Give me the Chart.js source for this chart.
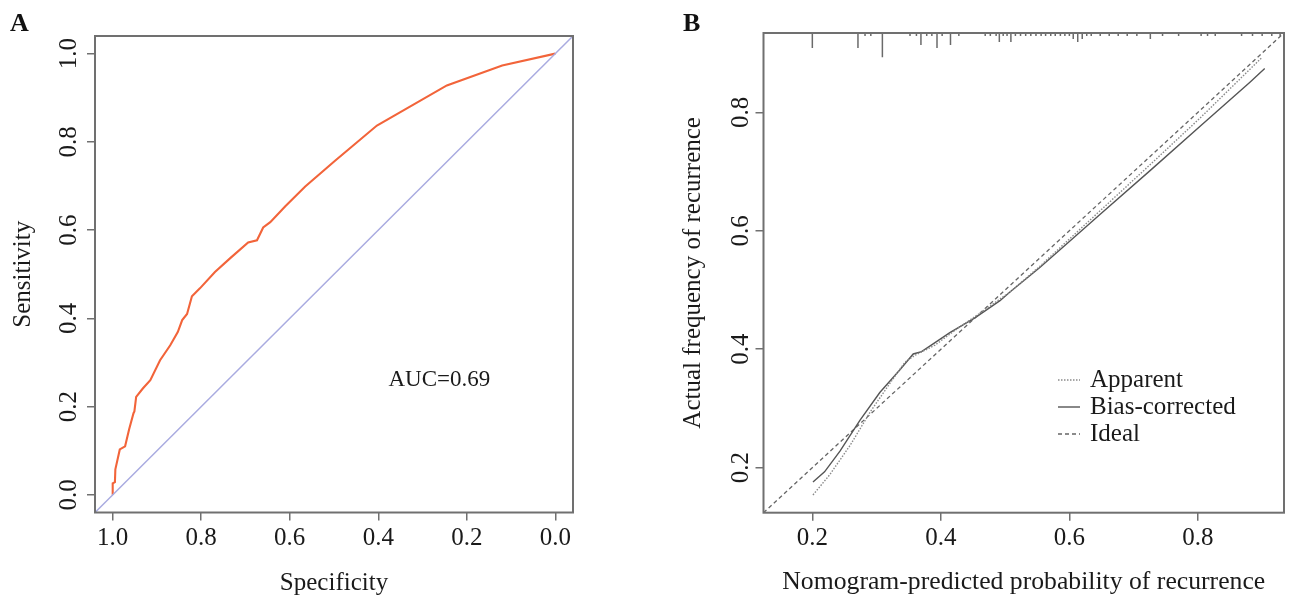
<!DOCTYPE html>
<html><head><meta charset="utf-8">
<script src="https://cdn.jsdelivr.net/npm/chart.js@4.4.1/dist/chart.umd.min.js"></script>
<style>
html,body{margin:0;padding:0;background:#fff;overflow:hidden}
#wrap{position:relative;width:1289px;height:596px;background:#fff}
.pane{position:absolute;top:0;height:596px}
#pa{left:0;width:645px}
#pb{left:645px;width:644px}
.tag{position:absolute;font:bold 26px "Liberation Serif","Times New Roman",serif;color:#111;line-height:26px}
</style></head>
<body>
<div id="wrap">
  <div class="pane" id="pa"><canvas id="ca"></canvas></div>
  <div class="pane" id="pb"><canvas id="cb"></canvas></div>
  <div class="tag" style="left:10px;top:10px">A</div>
  <div class="tag" style="left:683px;top:10px">B</div>
</div>
<script>
// ---------- Panel A: ROC curve ----------
const rocSpecificity = [1.000,1.000,0.995,0.994,0.984,0.972,0.963,0.953,0.951,0.947,0.932,0.915,0.893,0.870,0.853,0.843,0.832,0.821,0.803,0.769,0.735,0.694,0.674,0.660,0.644,0.610,0.565,0.497,0.403,0.245,0.120,0.000];
const rocSensitivity = [0.000,0.026,0.029,0.058,0.103,0.110,0.148,0.185,0.189,0.222,0.241,0.260,0.305,0.339,0.369,0.396,0.410,0.450,0.468,0.505,0.536,0.572,0.577,0.606,0.618,0.654,0.699,0.758,0.837,0.928,0.973,1.000];
const chanceSpecificity = [1.04, -0.04];
const chanceSensitivity = [-0.04, 1.04];
const rocTicks = [0, 0.2, 0.4, 0.6, 0.8, 1.0];
const rocRange = [-0.04, 1.04];
const aucText = 'AUC=0.69';

// ---------- Panel B: calibration ----------
const apparentPred = [0.201,0.227,0.259,0.290,0.321,0.344,0.360,0.391,0.422,0.461,0.508,0.554,0.600,0.648,0.726,0.803,0.900];
const apparentObs  = [0.154,0.188,0.238,0.294,0.343,0.378,0.390,0.407,0.432,0.461,0.497,0.540,0.586,0.634,0.712,0.790,0.893];
const biasPred = [0.201,0.219,0.243,0.274,0.305,0.336,0.357,0.370,0.388,0.414,0.453,0.492,0.508,0.554,0.600,0.648,0.726,0.803,0.881,0.904];
const biasObs  = [0.176,0.193,0.228,0.280,0.327,0.365,0.392,0.396,0.409,0.428,0.453,0.482,0.497,0.538,0.582,0.628,0.702,0.776,0.851,0.874];
const idealPred = [0.124, 0.934];
const idealObs  = [0.124, 0.934];
const calRange = [0.124, 0.934];
const calTicks = [0.2, 0.4, 0.6, 0.8];
const rugPred  = [0.200,0.271,0.282,0.291,0.309,0.352,0.362,0.369,0.378,0.386,0.394,0.402,0.415,0.428,0.469,0.477,0.486,0.491,0.497,0.503,0.509,0.516,0.524,0.532,0.540,0.548,0.556,0.563,0.571,0.578,0.586,0.593,0.600,0.606,0.613,0.620,0.627,0.634,0.648,0.662,0.676,0.690,0.705,0.726,0.745,0.770,0.805,0.815,0.827,0.868,0.885,0.900,0.915,0.928];
const rugCount = [5,5,1,1,8,1,1,4,1,1,5,1,4,1,1,1,1,3,1,1,3,1,1,1,1,1,1,1,1,1,1,1,1,2,3,2,1,1,1,1,1,1,1,2,1,1,1,1,1,1,1,1,1,1];
const calLabels = ['Apparent', 'Bias-corrected', 'Ideal'];

const SERIF = '"Liberation Serif","Times New Roman",serif';
const pts = (xs, ys) => xs.map((x, i) => ({x: x, y: ys[i]}));
const RUG_UNIT = 0.0051;
const rugData = [];
rugPred.forEach((x, i) => {
  rugData.push({x: x, y: calRange[1]});
  rugData.push({x: x, y: calRange[1] - rugCount[i] * RUG_UNIT});
  rugData.push({x: x, y: null});
});

const boxPlugin = {
  id: 'box',
  afterDatasetsDraw(chart) {
    const {ctx, chartArea: a} = chart;
    ctx.save();
    ctx.strokeStyle = '#707070';
    ctx.lineWidth = 2;
    ctx.strokeRect(a.left, a.top, a.right - a.left, a.bottom - a.top);
    ctx.restore();
  }
};

const textPlugin = {
  id: 'dataText',
  afterDatasetsDraw(chart, args, o) {
    if (!o || !o.text) return;
    const ctx = chart.ctx;
    const x = chart.scales.x.getPixelForValue(o.x);
    const y = chart.scales.y.getPixelForValue(o.y);
    ctx.save();
    ctx.font = o.size + 'px ' + SERIF;
    ctx.fillStyle = '#1a1a1a';
    ctx.textAlign = 'center';
    ctx.textBaseline = 'middle';
    ctx.fillText(o.text, x, y);
    ctx.restore();
  }
};

const legendPlugin = {
  id: 'calLegend',
  afterDatasetsDraw(chart, args, o) {
    if (!o || !o.items) return;
    const ctx = chart.ctx;
    ctx.save();
    o.items.forEach((idx, i) => {
      const ds = chart.data.datasets[idx];
      const y = o.y + i * o.step;
      ctx.strokeStyle = ds.borderColor;
      ctx.lineWidth = ds.borderWidth;
      ctx.setLineDash(ds.borderDash || []);
      ctx.beginPath();
      ctx.moveTo(o.x, y);
      ctx.lineTo(o.x + o.len, y);
      ctx.stroke();
      ctx.setLineDash([]);
      ctx.fillStyle = '#1a1a1a';
      ctx.font = '25px ' + SERIF;
      ctx.textAlign = 'left';
      ctx.textBaseline = 'middle';
      ctx.fillText(ds.label, o.x + o.len + o.gap, y);
    });
    ctx.restore();
  }
};

function makeAxis(cfg) {
  const horiz = cfg.horizontal;
  return {
    type: 'linear',
    min: cfg.range[0],
    max: cfg.range[1],
    reverse: !!cfg.reverse,
    afterBuildTicks: s => { s.ticks = cfg.ticks.map(v => ({value: v})); },
    afterFit: s => { if (horiz) s.height = cfg.size; else s.width = cfg.size; },
    grid: {drawOnChartArea: false, drawTicks: true, tickLength: 8, color: '#707070', lineWidth: 1.5},
    border: {display: false},
    ticks: {
      autoSkip: false,
      font: {family: SERIF, size: 25},
      color: '#1a1a1a',
      padding: cfg.tickPad,
      minRotation: horiz ? 0 : 90,
      maxRotation: horiz ? 0 : 90,
      crossAlign: horiz ? 'near' : 'center',
      callback: v => Number(v).toFixed(1)
    },
    title: {
      display: true,
      text: cfg.title,
      color: '#1a1a1a',
      font: {family: SERIF, size: cfg.titleSize || 25},
      padding: cfg.titlePad
    }
  };
}

const lineDefaults = {pointRadius: 0, pointHoverRadius: 0, tension: 0, fill: false, spanGaps: false};

new Chart(document.getElementById('ca'), {
  type: 'line',
  data: {
    datasets: [
      Object.assign({label: 'chance', data: pts(chanceSpecificity, chanceSensitivity), borderColor: '#a9abe0', borderWidth: 1.5}, lineDefaults),
      Object.assign({label: 'ROC', data: pts(rocSpecificity, rocSensitivity), borderColor: '#f2643a', borderWidth: 2.1}, lineDefaults)
    ]
  },
  options: {
    responsive: true,
    maintainAspectRatio: false,
    animation: false,
    layout: {padding: {left: 0, top: 36, right: 72, bottom: 0}},
    scales: {
      x: makeAxis({horizontal: true, range: rocRange, reverse: true, ticks: rocTicks, size: 83.5, tickPad: 3, title: 'Specificity', titlePad: {top: 0, bottom: -2}}),
      y: makeAxis({horizontal: false, range: rocRange, ticks: rocTicks, size: 95, tickPad: 1.5, title: 'Sensitivity', titlePad: {top: 8, bottom: 0}})
    },
    plugins: {
      legend: {display: false},
      tooltip: {enabled: false},
      dataText: {text: aucText, x: 0.262, y: 0.26, size: 23}
    }
  },
  plugins: [boxPlugin, textPlugin]
});

new Chart(document.getElementById('cb'), {
  type: 'line',
  data: {
    datasets: [
      Object.assign({label: calLabels[0], data: pts(apparentPred, apparentObs), borderColor: '#8a8a8a', borderWidth: 1.4, borderDash: [1.5, 1.5]}, lineDefaults),
      Object.assign({label: calLabels[1], data: pts(biasPred, biasObs), borderColor: '#555555', borderWidth: 1.4}, lineDefaults),
      Object.assign({label: calLabels[2], data: pts(idealPred, idealObs), borderColor: '#666666', borderWidth: 1.3, borderDash: [4, 3]}, lineDefaults),
      Object.assign({label: 'rug', data: rugData, borderColor: '#6a6a6a', borderWidth: 1.5}, lineDefaults)
    ]
  },
  options: {
    responsive: true,
    maintainAspectRatio: false,
    animation: false,
    layout: {padding: {left: 0, top: 33, right: 5, bottom: 0}},
    scales: {
      x: makeAxis({horizontal: true, range: calRange, ticks: calTicks, size: 83.3, tickPad: 3, title: 'Nomogram-predicted probability of recurrence', titleSize: 25.7, titlePad: {top: 0, bottom: -2}}),
      y: makeAxis({horizontal: false, range: calRange, ticks: calTicks, size: 118.5, tickPad: -1.5, title: 'Actual frequency of recurrence', titlePad: {top: 33, bottom: 0}})
    },
    plugins: {
      legend: {display: false},
      tooltip: {enabled: false},
      calLegend: {items: [0, 1, 2], x: 413, y: 380, step: 27, len: 22, gap: 10}
    }
  },
  plugins: [boxPlugin, legendPlugin]
});
</script>
</body></html>
